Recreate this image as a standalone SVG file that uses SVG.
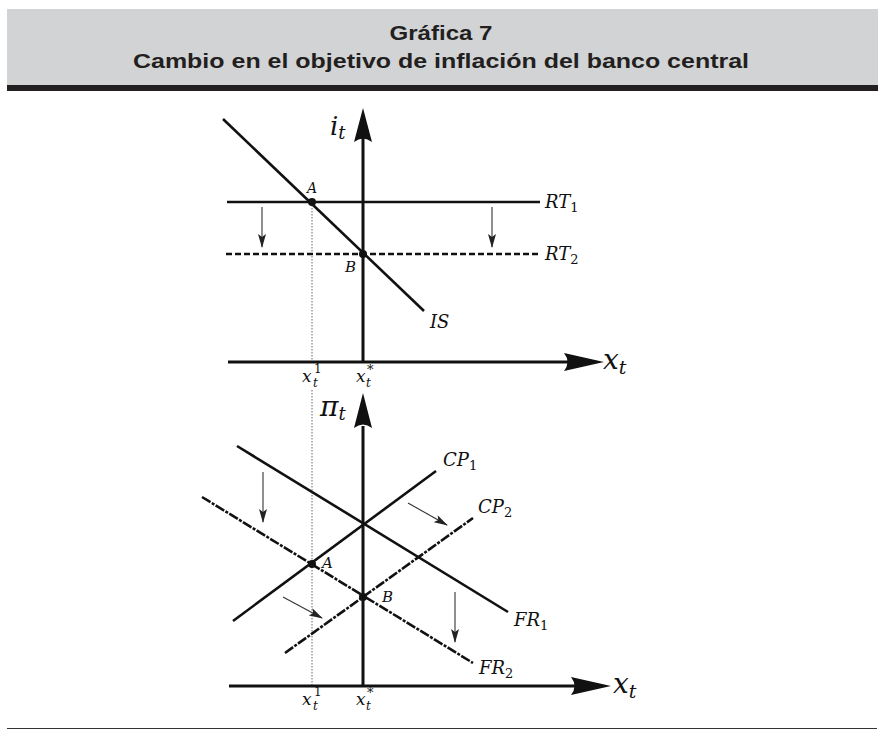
<svg xmlns="http://www.w3.org/2000/svg" width="882" height="730" viewBox="0 0 882 730">
<style>
.title{font-family:"Liberation Sans","DejaVu Sans",sans-serif;font-weight:bold;font-size:20px;fill:#231f20;text-anchor:middle}
.m{font-family:"DejaVu Serif","Liberation Serif",serif;font-style:italic;fill:#111}
.sub{font-style:normal}
.axis{stroke:#111;stroke-width:3;fill:none}
.ln{stroke:#111;stroke-width:2.6;fill:none}
.dash1{stroke:#111;stroke-width:2.4;fill:none;stroke-dasharray:6 3}
.dash2{stroke:#111;stroke-width:2.6;fill:none;stroke-dasharray:10 1.5 3 1.5}
.dot{stroke:#666;stroke-width:1;fill:none;stroke-dasharray:1.5 1.5}
.sh{stroke:#333;stroke-width:1.1;fill:none;marker-end:url(#ah)}
.ahd{fill:#111}
</style>
<defs>
<marker id="ah" viewBox="0 0 14 8" refX="13" refY="4" markerWidth="14" markerHeight="8" markerUnits="userSpaceOnUse" orient="auto">
<path d="M0 0 L14 4 L0 8 L3 4 Z" fill="#222"/>
</marker>
</defs>
<g id="header">
<rect x="7" y="9" width="871" height="76" fill="#d2d3d5"/>
<rect x="7" y="85" width="871" height="6" fill="#231f20"/>
<text class="title" x="441" y="40" textLength="103" lengthAdjust="spacingAndGlyphs">Gráfica 7</text>
<text class="title" x="441" y="68" textLength="616" lengthAdjust="spacingAndGlyphs">Cambio en el objetivo de inflación del banco central</text>
</g>
<line id="footer-rule" x1="7" y1="728.5" x2="877" y2="728.5" stroke="#333" stroke-width="1"/>
<g id="connectors">
<line class="dot" x1="312" y1="202" x2="312" y2="362"/>
<line class="dot" x1="312" y1="390" x2="312" y2="686"/>
<line class="axis" x1="363" y1="138" x2="363" y2="362"/>
<line class="axis" x1="228" y1="362" x2="570" y2="362"/>
<line class="ln" x1="227" y1="202" x2="540" y2="202"/>
<line class="dash1" x1="226" y1="254" x2="540" y2="254"/>
<line class="ln" x1="223" y1="119" x2="424" y2="311"/>
<line class="sh" x1="262" y1="207" x2="262" y2="247"/>
<line class="sh" x1="492" y1="207" x2="492" y2="247"/>
<line class="axis" x1="363" y1="426" x2="363" y2="686"/>
<line class="axis" x1="229" y1="686" x2="578" y2="686"/>
<line class="ln" x1="237" y1="446" x2="508" y2="612"/>
<line class="ln" x1="233" y1="621" x2="436" y2="471"/>
<line class="dash2" x1="202" y1="497" x2="473" y2="663"/>
<line class="dash2" x1="285" y1="653" x2="473" y2="518"/>
<line class="sh" x1="263" y1="472" x2="263" y2="522"/>
<line class="sh" x1="455" y1="592" x2="455" y2="642"/>
<line class="sh" x1="408" y1="503" x2="447" y2="525"/>
<line class="sh" x1="283" y1="597" x2="322" y2="618"/>
<path class="ahd" d="M363 108 L372 142 Q363 135 354 142 Z"/>
<path class="ahd" d="M604 362 L564 371 Q571 362 564 353 Z"/>
<path class="ahd" d="M363 393 L372 428 Q363 421 354 428 Z"/>
<path class="ahd" d="M611 686 L571 695 Q578 686 571 677 Z"/>
</g>
<g id="top-axis-labels">
<text class="m" x="330" y="135" font-size="26">i<tspan font-size="18" dy="4">t</tspan></text>
<text class="m" x="603" y="369" font-size="28">x<tspan font-size="19" dy="5">t</tspan></text>
<text class="m" x="302" y="382" font-size="17">x</text>
<text class="m" x="313" y="387" font-size="12">t</text>
<text class="m sub" x="314" y="373" font-size="12">1</text>
<text class="m" x="356" y="382" font-size="17">x</text>
<text class="m" x="366" y="387" font-size="12">t</text>
<text class="m sub" x="367" y="374" font-size="13">*</text>
</g>
<g id="node-RT1"><text class="m" x="545" y="208" font-size="18">RT<tspan class="sub" font-size="13" dy="4">1</tspan></text></g>
<g id="node-RT2"><text class="m" x="545" y="260" font-size="18">RT<tspan class="sub" font-size="13" dy="4">2</tspan></text></g>
<g id="node-IS"><text class="m" x="430" y="328" font-size="18">IS</text></g>
<g id="node-A-top"><circle cx="312" cy="202" r="4" fill="#111"/><text class="m" x="307" y="193" font-size="14">A</text></g>
<g id="node-B-top"><circle cx="363" cy="254" r="4" fill="#111"/><text class="m" x="345" y="272" font-size="15">B</text></g>
<g id="bottom-axis-labels">
<text class="m" x="320" y="416" font-size="28">π<tspan font-size="18" dy="4">t</tspan></text>
<text class="m" x="613" y="693" font-size="28">x<tspan font-size="19" dy="5">t</tspan></text>
<text class="m" x="302" y="705" font-size="17">x</text>
<text class="m" x="313" y="710" font-size="12">t</text>
<text class="m sub" x="314" y="696" font-size="12">1</text>
<text class="m" x="356" y="705" font-size="17">x</text>
<text class="m" x="366" y="710" font-size="12">t</text>
<text class="m sub" x="367" y="697" font-size="13">*</text>
</g>
<g id="node-CP1"><text class="m" x="443" y="466" font-size="18">CP<tspan class="sub" font-size="13" dy="4">1</tspan></text></g>
<g id="node-CP2"><text class="m" x="478" y="513" font-size="18">CP<tspan class="sub" font-size="13" dy="4">2</tspan></text></g>
<g id="node-FR1"><text class="m" x="514" y="626" font-size="18">FR<tspan class="sub" font-size="13" dy="4">1</tspan></text></g>
<g id="node-FR2"><text class="m" x="479" y="674" font-size="18">FR<tspan class="sub" font-size="13" dy="4">2</tspan></text></g>
<g id="node-A-bottom"><circle cx="312" cy="564" r="4" fill="#111"/><text class="m" x="322" y="568" font-size="15">A</text></g>
<g id="node-B-bottom"><circle cx="363" cy="597" r="4" fill="#111"/><text class="m" x="382" y="602" font-size="15">B</text></g>
</svg>
